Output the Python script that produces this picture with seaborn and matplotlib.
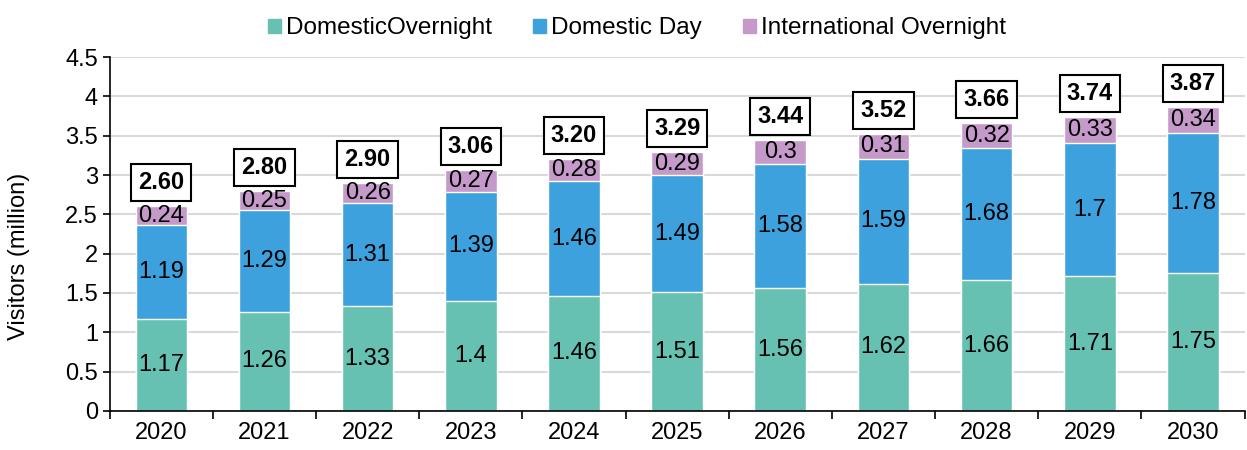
import numpy as np
import pandas as pd
import seaborn as sns
import matplotlib.pyplot as plt
from matplotlib.patches import Patch

years = ['2020', '2021', '2022', '2023', '2024', '2025', '2026', '2027', '2028', '2029', '2030']
domestic_overnight = [1.17, 1.26, 1.33, 1.40, 1.46, 1.51, 1.56, 1.62, 1.66, 1.71, 1.75]
domestic_day = [1.19, 1.29, 1.31, 1.39, 1.46, 1.49, 1.58, 1.59, 1.68, 1.70, 1.78]
international_overnight = [0.24, 0.25, 0.26, 0.27, 0.28, 0.29, 0.30, 0.31, 0.32, 0.33, 0.34]
totals = ['2.60', '2.80', '2.90', '3.06', '3.20', '3.29', '3.44', '3.52', '3.66', '3.74', '3.87']

c_dom = '#66C1B2'
c_day = '#3DA1DD'
c_int = '#C59ACA'

df = pd.DataFrame({'year': years, 'dom': domestic_overnight, 'day': domestic_day, 'intl': international_overnight})
df['dom_day'] = df['dom'] + df['day']
df['total'] = df['dom_day'] + df['intl']

sns.set_style('white')
plt.rcParams['font.family'] = ['Liberation Sans', 'DejaVu Sans']
plt.rcParams['text.color'] = 'black'
plt.rcParams['axes.labelcolor'] = 'black'
plt.rcParams['xtick.color'] = 'black'
plt.rcParams['ytick.color'] = 'black'

fig = plt.figure(figsize=(12.47, 4.5), dpi=100)
ax = fig.add_axes([0.088, 0.087, 0.91, 0.786])

# stacked bars, drawn back to front
sns.barplot(data=df, x='year', y='total', color=c_int, width=0.5, saturation=1, ax=ax, zorder=2)
sns.barplot(data=df, x='year', y='dom_day', color=c_day, width=0.5, saturation=1, ax=ax, zorder=2)
sns.barplot(data=df, x='year', y='dom', color=c_dom, width=0.5, saturation=1, ax=ax, zorder=2)

def fmt(v):
    return f'{v:.2f}'.rstrip('0').rstrip('.')

for i, row in df.iterrows():
    ax.text(i, row['dom'] / 2, fmt(row['dom']), ha='center', va='center', fontsize=17, zorder=3)
    ax.text(i, row['dom'] + row['day'] / 2, fmt(row['day']), ha='center', va='center', fontsize=17, zorder=3)
    ax.text(i, row['dom_day'] + row['intl'] / 2, fmt(row['intl']), ha='center', va='center', fontsize=17, zorder=3)
    ax.text(i, row['total'] + 0.3, totals[i], ha='center', va='center', fontsize=17, fontweight='bold', zorder=3,
            bbox=dict(boxstyle='square,pad=0.3', fc='white', ec='black', lw=1.5))

ax.set_ylim(0, 4.5)
ax.set_xlim(-0.5, 10.47)
ax.set_yticks(np.arange(0, 4.51, 0.5))
ax.set_yticklabels(['0', '0.5', '1', '1.5', '2', '2.5', '3', '3.5', '4', '4.5'])
ax.yaxis.grid(True, color='#D9D9D9', lw=1.5, zorder=0)
ax.set_axisbelow(True)
ax.set_xlabel('')
ax.set_ylabel('Visitors (million)', fontsize=17)
ax.yaxis.set_label_coords(-0.07, 0.438)
ax.tick_params(axis='both', labelsize=17)
ax.tick_params(axis='y', length=5, width=1.2, direction='out', left=True)
ax.tick_params(axis='x', which='major', length=0, pad=8)
ax.set_xticks(np.arange(-0.5, 10.6, 1), minor=True)
ax.tick_params(axis='x', which='minor', length=6, width=1.2, bottom=True, direction='out')

for s in ['top', 'right']:
    ax.spines[s].set_visible(False)
for s in ['left', 'bottom']:
    ax.spines[s].set_color('black')
    ax.spines[s].set_linewidth(1.2)

handles = [Patch(color=c_dom), Patch(color=c_day), Patch(color=c_int)]
fig.legend(handles, ['DomesticOvernight', 'Domestic Day', 'International Overnight'],
           loc='upper center', bbox_to_anchor=(0.511, 1.01), ncol=3, frameon=False, fontsize=17.5,
           handlelength=0.53, handleheight=0.53, handletextpad=0.2, columnspacing=1.7)

fig.savefig('out.png', dpi=100)
